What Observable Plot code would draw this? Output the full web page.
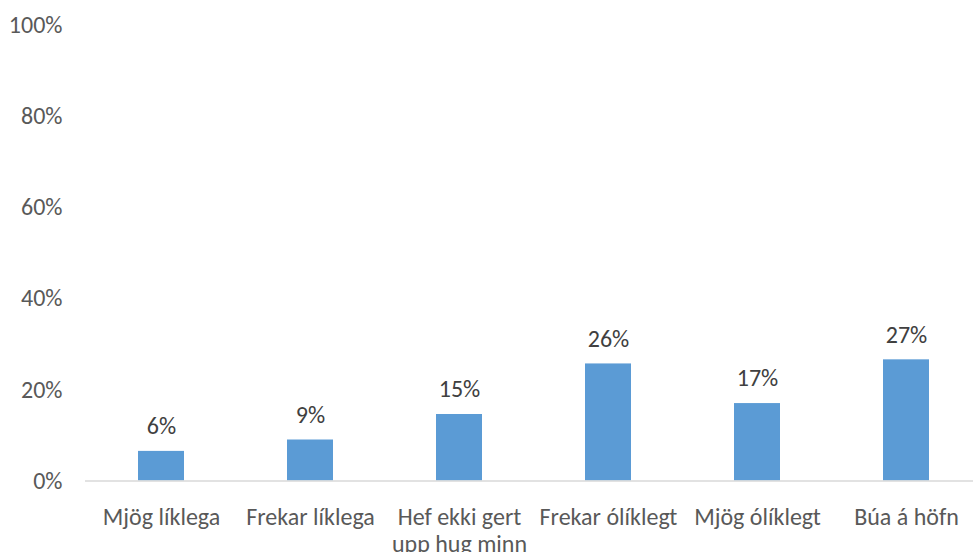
<!DOCTYPE html>
<html>
<head>
<meta charset="utf-8">
<script src="https://cdn.jsdelivr.net/npm/d3@7"></script>
<script src="https://cdn.jsdelivr.net/npm/@observablehq/plot@0.6"></script>
<style>
  html, body { margin: 0; padding: 0; background: #fff; }
  #chart svg { display: block; overflow: visible; }
</style>
</head>
<body>
<div id="chart"></div>
<script>
const categories = ["Mjög líklega", "Frekar líklega", "Hef ekki gert upp hug minn", "Frekar ólíklegt", "Mjög ólíklegt", "Búa á höfn"];
const values = [0.065, 0.090, 0.146, 0.257, 0.170, 0.266];
const valueLabels = ["6%", "9%", "15%", "26%", "17%", "27%"];
const yTicks = [0, 0.2, 0.4, 0.6, 0.8, 1.0];
const yTickLabels = ["0%", "20%", "40%", "60%", "80%", "100%"];
const xTickLabels = {"Hef ekki gert upp hug minn": "Hef ekki gert\nupp hug minn"};

const data = categories.map((c, i) => ({category: c, value: values[i], label: valueLabels[i]}));

const chart = Plot.plot({
  width: 973,
  height: 552,
  marginLeft: 85,
  marginRight: 0,
  marginTop: 25,
  marginBottom: 71.5,
  style: {fontFamily: "Carlito, Calibri, Lato, sans-serif", fontSize: "24px", color: "#595959", background: "#fff"},
  x: {domain: categories, range: [85.3, 981.7], paddingInner: 0.692, paddingOuter: 0.346, label: null},
  y: {domain: [0, 1], label: null},
  marks: [
    Plot.barY(data, {x: "category", y: "value", fill: "#5B9BD5"}),
    Plot.ruleY([0], {stroke: "#d9d9d9", strokeWidth: 1.5}),
    Plot.text(data, {x: "category", y: "value", text: "label", dy: -25, lineAnchor: "middle", fill: "#404040", fontSize: 24}),
    Plot.axisY(yTicks, {tickSize: 0, tickPadding: 23, tickFormat: (d) => yTickLabels[yTicks.indexOf(d)], label: null, fontSize: 24}),
    Plot.axisX({tickSize: 0, tickPadding: 25, tickFormat: d => xTickLabels[d] ?? d, lineHeight: 1.125, label: null, fontSize: 24})
  ]
});
document.getElementById("chart").appendChild(chart);
</script>
</body>
</html>
